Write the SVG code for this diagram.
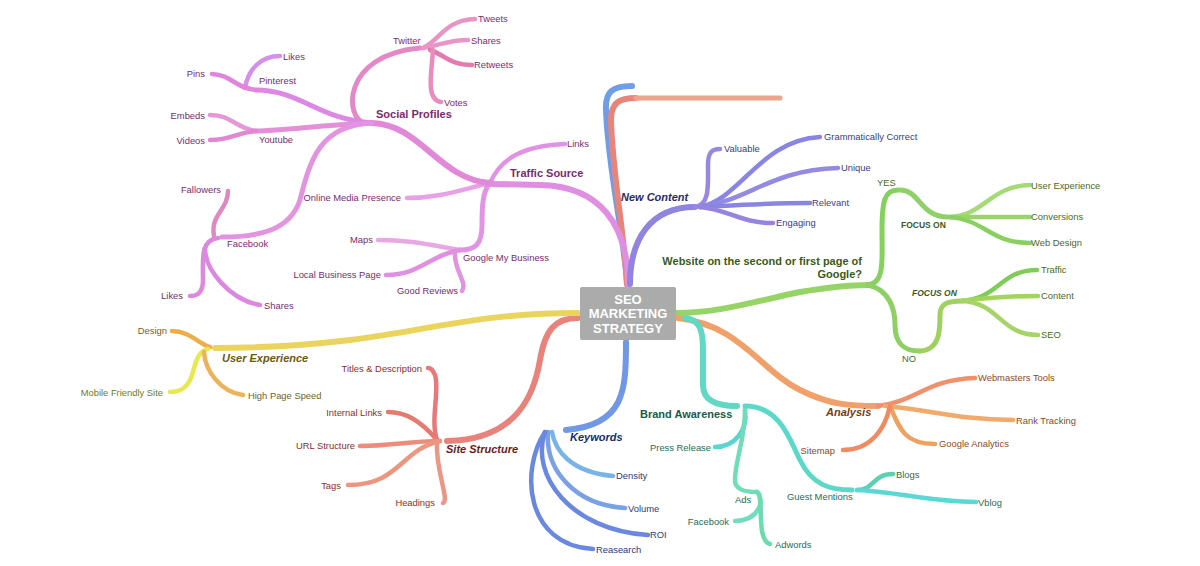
<svg xmlns="http://www.w3.org/2000/svg" width="1200" height="566" viewBox="0 0 1200 566">
<style>
path{fill:none;stroke-linecap:round;stroke-linejoin:round}
.m{stroke-width:6}
.s{stroke-width:5}
.l{stroke-width:4.5}
text{font-family:"Liberation Sans",Arial,sans-serif;font-size:9.4px}
.b{font-weight:bold;font-size:11px}
.bi{font-weight:bold;font-style:italic;font-size:11px}
.e{text-anchor:end}
.pk{fill:#7a2a72}.pu{fill:#3a3a86}.gr{fill:#4a6a26}.or{fill:#8a4a26}.te{fill:#2a6a5a}.bl{fill:#2a3a7a}.rd{fill:#8a2e2e}.ye{fill:#6e6228}
</style>
<rect width="1200" height="566" fill="#ffffff"/>
<g id="connectors">
<!-- top empty branches -->
<path class="m" stroke="#6f9ee6" d="M627,284 C625,240 608,170 606,110 C605,92 612,86 632,86"/>
<path class="m" stroke="#e8857a" d="M627,284 C625,240 612,170 611,120 C611,102 620,98 636,98"/>
<path class="s" stroke="#eca58a" d="M636,98 L780,98"/>
<!-- traffic source -->
<path class="m" stroke="#e08ee2" d="M628,284 C628,225 600,186 540,185 L492,184"/>
<path class="l" stroke="#e292e4" d="M490,183 C500,160 520,146 565,144"/>
<path class="l" stroke="#e8a0e6" d="M490,183 C460,190 440,198 407,198"/>
<path class="s" stroke="#e094e4" d="M490,183 C482,192 482,210 482,225 C482,245 475,250 460,250"/>
<path class="l" stroke="#e8a8e4" d="M460,250 C430,245 410,240 378,240"/>
<path class="l" stroke="#e090e0" d="M460,250 C430,255 420,275 386,275"/>
<path class="l" stroke="#e094e0" d="M455,251 C453,270 468,282 462,291"/>
<path class="m" stroke="#e288d8" d="M490,183 C440,180 420,124 372,123"/>
<path class="s" stroke="#e488c8" d="M365,123 C345,120 340,55 420,48"/>
<path class="l" stroke="#e894c4" d="M423,48 C440,40 445,20 475,19"/>
<path class="l" stroke="#e896c8" d="M423,48 C440,45 450,40 468,40"/>
<path class="l" stroke="#e47ab0" d="M430,50 C445,55 450,65 472,65"/>
<path class="l" stroke="#e88cbc" d="M433,50 C432,70 425,100 441,102"/>
<path class="s" stroke="#dc88e4" d="M372,123 C320,120 300,90 256,90"/>
<path class="l" stroke="#d590ea" d="M245,88 C248,70 260,56 280,56"/>
<path class="l" stroke="#e084dc" d="M256,90 C235,88 232,75 212,74"/>
<path class="s" stroke="#e490d8" d="M372,123 C320,125 290,130 256,131"/>
<path class="l" stroke="#e498d8" d="M256,131 C235,128 232,115 210,115"/>
<path class="l" stroke="#e088d4" d="M256,131 C235,133 232,140 210,140"/>
<path class="s" stroke="#e294e0" d="M372,123 C320,125 310,160 300,200 C290,230 260,237 222,237"/>
<path class="l" stroke="#e088c0" d="M214,236 C210,215 228,210 228,191"/>
<path class="l" stroke="#dc88e0" d="M218,238 C200,240 203,260 203,280 C203,295 195,296 190,296"/>
<path class="l" stroke="#dc88e0" d="M205,248 C205,270 230,300 260,305"/>
<!-- new content -->
<path class="m" stroke="#8f84e0" d="M630,284 C630,240 650,207 695,207"/>
<path class="l" stroke="#9a88e0" d="M695,207 C710,205 708,185 708,165 C708,152 712,149 720,149"/>
<path class="l" stroke="#8a84e4" d="M700,207 C740,200 760,140 820,137"/>
<path class="l" stroke="#948ae2" d="M700,207 C750,200 770,170 838,168"/>
<path class="l" stroke="#8a86e0" d="M700,207 C740,205 770,203 810,203"/>
<path class="l" stroke="#9684e0" d="M700,207 C730,210 740,223 773,223"/>
<!-- website on google -->
<path class="m" stroke="#96d468" d="M676,313 C720,313 760,300 800,292 C830,287 850,285 868,285"/>
<path class="s" stroke="#86d060" d="M868,285 C885,283 882,260 882,230 C882,200 885,190 898,190"/>
<path class="s" stroke="#90d068" d="M900,190 C920,190 920,217 948,217"/>
<path class="l" stroke="#a6da78" d="M950,217 C985,215 990,186 1030,185"/>
<path class="l" stroke="#9cd468" d="M950,217 L1030,217"/>
<path class="l" stroke="#8ad060" d="M950,217 C985,220 990,243 1030,243"/>
<path class="s" stroke="#8ed064" d="M868,285 C890,290 895,310 895,325 C895,345 905,351 920,351"/>
<path class="s" stroke="#a0d060" d="M920,351 C940,350 940,330 940,315 C940,305 945,301 962,301"/>
<path class="l" stroke="#80cc58" d="M962,301 C1000,298 1000,270 1037,270"/>
<path class="l" stroke="#a4d460" d="M962,301 C990,297 1010,296 1038,296"/>
<path class="l" stroke="#a6d468" d="M962,301 C1000,303 1000,335 1038,335"/>
<!-- analysis -->
<path class="m" stroke="#f0a068" d="M678,318 C740,325 760,370 800,390 C830,405 850,406 878,406"/>
<path class="l" stroke="#f0906c" d="M878,406 C920,400 925,380 975,378"/>
<path class="l" stroke="#f0aa6c" d="M885,406 C930,410 960,420 1013,420"/>
<path class="l" stroke="#f0a060" d="M890,406 C900,430 905,444 935,444"/>
<path class="l" stroke="#f08a60" d="M890,406 C885,430 870,450 843,450"/>
<!-- brand awareness -->
<path class="m" stroke="#62d8c4" d="M685,318 C700,320 703,330 703,350 L703,385 C703,400 715,406 737,406"/>
<path class="l" stroke="#5cd4d0" d="M745,410 C748,430 735,447 715,447"/>
<path class="l" stroke="#70dcb8" d="M745,410 C745,440 735,460 735,480 C735,490 745,492 757,492"/>
<path class="l" stroke="#70dcc0" d="M757,492 C765,500 760,520 735,521"/>
<path class="l" stroke="#6cdcb0" d="M757,492 C765,495 755,540 770,544"/>
<path class="s" stroke="#5cd8c8" d="M745,406 C780,406 790,440 800,460 C812,485 830,490 852,490"/>
<path class="l" stroke="#5cd0b0" d="M857,490 C875,490 872,474 893,474"/>
<path class="l" stroke="#5cd8d4" d="M857,490 C900,492 930,502 976,502"/>
<!-- keywords -->
<path class="m" stroke="#7098e4" d="M626,342 C626,390 625,425 566,430"/>
<path class="l" stroke="#78b4e8" d="M552,432 C555,450 570,472 613,476"/>
<path class="l" stroke="#7aa0e6" d="M548,432 C545,470 575,505 625,508"/>
<path class="l" stroke="#6a88e0" d="M545,432 C530,475 570,530 648,535"/>
<path class="l" stroke="#6a88e0" d="M545,432 C520,470 525,545 593,549"/>
<!-- site structure -->
<path class="m" stroke="#e8827a" d="M578,318 C555,318 545,330 540,360 C535,390 520,440 447,441"/>
<path class="l" stroke="#e8787a" d="M437,440 C430,420 440,390 435,375 C433,370 430,368 428,368"/>
<path class="l" stroke="#e47a70" d="M437,440 C420,420 405,412 388,412"/>
<path class="l" stroke="#ec8c7a" d="M440,441 C410,441 390,446 360,446"/>
<path class="l" stroke="#ec9680" d="M440,441 C400,450 400,485 348,485"/>
<path class="l" stroke="#ec9686" d="M437,441 C435,470 450,500 443,503"/>
<!-- user experience -->
<path class="m" stroke="#ead45e" d="M578,313 C480,313 430,330 350,340 C300,346 250,348 215,348"/>
<path class="l" stroke="#ecae48" d="M210,347 C200,345 190,331 172,331"/>
<path class="l" stroke="#e8e850" d="M208,349 C195,352 195,370 190,380 C185,390 178,392 170,392"/>
<path class="l" stroke="#ecb45a" d="M204,352 C205,370 220,392 243,395"/>
</g>
<g id="center">
<rect x="580" y="287" width="96" height="53" rx="2" fill="#ababab"/>
<text x="628" y="304" text-anchor="middle" fill="#ffffff" style="font-size:13px;font-weight:bold">SEO</text>
<text x="628" y="318" text-anchor="middle" fill="#ffffff" style="font-size:13px;font-weight:bold">MARKETING</text>
<text x="628" y="333" text-anchor="middle" fill="#ffffff" style="font-size:13px;font-weight:bold">STRATEGY</text>
</g>
<g id="traffic-source">
<text class="b pk" x="510" y="177">Traffic Source</text>
<text class="pk" x="567" y="147">Links</text>
<text class="pk e" x="401" y="201">Online Media Presence</text>
<text class="pk" x="463" y="261">Google My Business</text>
<text class="pk e" x="373" y="243">Maps</text>
<text class="pk e" x="381" y="278">Local Business Page</text>
<text class="pk e" x="458" y="294">Good Reviews</text>
</g>
<g id="social-profiles">
<text class="b pk" x="376" y="118">Social Profiles</text>
<text class="pk" x="393" y="44">Twitter</text>
<text class="pk" x="478" y="22">Tweets</text>
<text class="pk" x="471" y="44">Shares</text>
<text class="pk" x="474" y="68">Retweets</text>
<text class="pk" x="444" y="106">Votes</text>
<text class="pk" x="259" y="84">Pinterest</text>
<text class="pk" x="283" y="60">Likes</text>
<text class="pk e" x="205" y="77">Pins</text>
<text class="pk" x="259" y="143">Youtube</text>
<text class="pk e" x="205" y="119">Embeds</text>
<text class="pk e" x="205" y="144">Videos</text>
<text class="pk" x="227" y="247">Facebook</text>
<text class="pk e" x="221" y="193">Fallowers</text>
<text class="pk e" x="183" y="299">Likes</text>
<text class="pk" x="264" y="309">Shares</text>
</g>
<g id="new-content">
<text class="bi" fill="#2a2a6a" x="621" y="201">New Content</text>
<text class="pu" x="724" y="152">Valuable</text>
<text class="pu" x="824" y="140">Grammatically Correct</text>
<text class="pu" x="841" y="171">Unique</text>
<text class="pu" x="812" y="206">Relevant</text>
<text class="pu" x="776" y="226">Engaging</text>
</g>
<g id="google-page">
<text class="b e" fill="#3a5a1a" x="862" y="265">Website on the second or first page of</text>
<text class="b e" fill="#3a5a1a" x="862" y="278">Google?</text>
<text class="gr" x="877" y="186">YES</text>
<text class="gr" x="901" y="228" style="font-weight:bold;font-size:8.5px;fill:#3a5a1a">FOCUS ON</text>
<text class="gr" x="1031" y="189">User Experience</text>
<text class="gr" x="1031" y="220">Conversions</text>
<text class="gr" x="1031" y="246">Web Design</text>
<text class="gr" x="902" y="362">NO</text>
<text class="gr" x="912" y="296" style="font-weight:bold;font-style:italic;font-size:8.5px;fill:#3a5a1a">FOCUS ON</text>
<text class="gr" x="1041" y="273">Traffic</text>
<text class="gr" x="1041" y="299">Content</text>
<text class="gr" x="1041" y="338">SEO</text>
</g>
<g id="analysis">
<text class="bi" fill="#7a3a10" x="826" y="416">Analysis</text>
<text class="or" x="978" y="381">Webmasters Tools</text>
<text class="or" x="1016" y="424">Rank Tracking</text>
<text class="or" x="939" y="447">Google Analytics</text>
<text class="or e" x="835" y="454">Sitemap</text>
</g>
<g id="brand-awareness">
<text class="b" fill="#1a5a4a" x="640" y="418">Brand Awareness</text>
<text class="te e" x="711" y="451">Press Release</text>
<text class="te" x="735" y="503">Ads</text>
<text class="te e" x="729" y="525">Facebook</text>
<text class="te" x="775" y="548">Adwords</text>
<text class="te" x="787" y="500">Guest Mentions</text>
<text class="te" x="896" y="478">Blogs</text>
<text class="te" x="978" y="506">Vblog</text>
</g>
<g id="keywords">
<text class="bi" fill="#1a2a6a" x="570" y="441">Keywords</text>
<text class="bl" x="616" y="479">Density</text>
<text class="bl" x="628" y="512">Volume</text>
<text class="bl" x="650" y="538">ROI</text>
<text class="bl" x="596" y="553">Reasearch</text>
</g>
<g id="site-structure">
<text class="bi" fill="#6a1a1a" x="446" y="453">Site Structure</text>
<text class="rd e" x="422" y="372">Titles &amp; Description</text>
<text class="rd e" x="382" y="416">Internal Links</text>
<text class="rd e" x="355" y="449">URL Structure</text>
<text class="rd e" x="341" y="489">Tags</text>
<text class="rd e" x="435" y="506">Headings</text>
</g>
<g id="user-experience">
<text class="bi" fill="#6a5a10" x="222" y="362">User Experience</text>
<text class="ye e" x="167" y="334">Design</text>
<text class="ye e" x="163" y="396" style="fill:#6e7a28">Mobile Friendly Site</text>
<text class="ye" x="248" y="399">High Page Speed</text>
</g>
</svg>
